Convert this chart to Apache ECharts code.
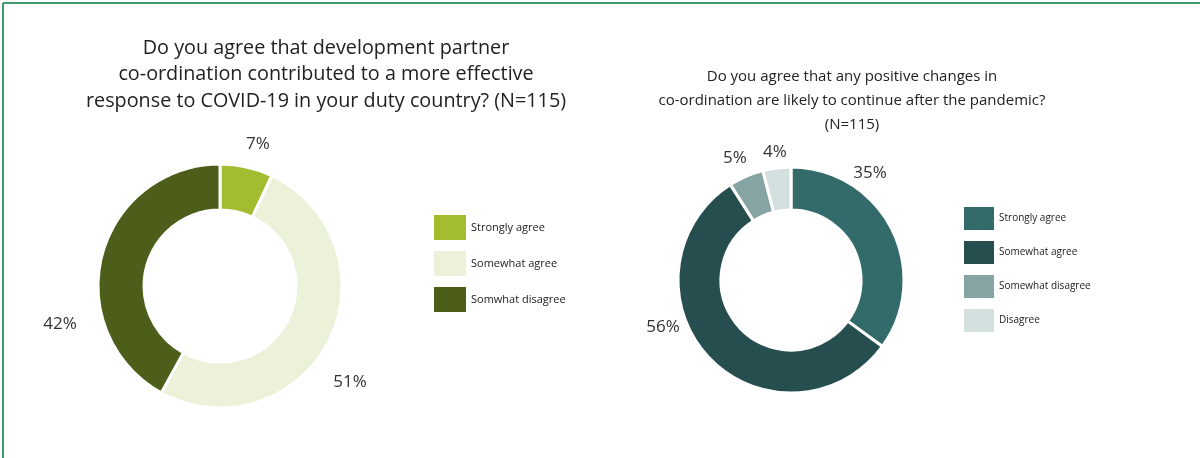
<!DOCTYPE html>
<html>
<head>
<meta charset="utf-8">
<script src="https://cdn.jsdelivr.net/npm/echarts@6/dist/echarts.min.js"></script>
<style>
  html, body { margin: 0; padding: 0; background: #fff; }
  #chart { width: 1200px; height: 458px; }
</style>
</head>
<body>
<div id="chart"></div>
<script>
// Survey responses, percent of respondents (N=115)
const leftCategories = ['Strongly agree', 'Somewhat agree', 'Somwhat disagree'];
const leftValues = [7, 51, 42];
const leftColors = ['#a3bd31', '#ecf2d9', '#4d5e1a'];

const rightCategories = ['Strongly agree', 'Somewhat agree', 'Somewhat disagree', 'Disagree'];
const rightValues = [35, 56, 5, 4];
const rightColors = ['#336b6a', '#264e4f', '#86a4a3', '#d4dfe0'];

const leftTitle = 'Do you agree that development partner\nco-ordination contributed to a more effective\nresponse to COVID-19 in your duty country? (N=115)';
const rightTitle = 'Do you agree that any positive changes in\nco-ordination are likely to continue after the pandemic?\n(N=115)';

const FONT = '"Open Sans", "Noto Sans", sans-serif';

// Where each percentage label sits, per pie (label centre, px)
const labelSpots = [
  [[258, 144], [350, 382], [60, 324]],
  [[870, 173], [663, 327], [735, 158], [775, 152]]
];

function pieSeries(cats, vals, colors, center, radius) {
  return {
    type: 'pie',
    center: center,
    radius: radius,
    startAngle: 90,
    clockwise: true,
    avoidLabelOverlap: false,
    data: cats.map((c, i) => ({ name: c, value: vals[i], itemStyle: { color: colors[i] } })),
    itemStyle: { borderColor: '#ffffff', borderWidth: 3 },
    label: {
      show: true,
      position: 'outside',
      formatter: '{c}%',
      fontFamily: FONT,
      fontSize: 17,
      color: '#333333'
    },
    labelLine: { show: false, length: 14, length2: 0 },
    labelLayout: function (p) {
      const s = labelSpots[p.seriesIndex][p.dataIndex];
      return { x: s[0], y: s[1], align: 'center', verticalAlign: 'middle' };
    },
    emphasis: { disabled: true },
    animation: false
  };
}

function legendGraphic(cats, colors, x, y, w, h, step, fontSize) {
  const children = [];
  cats.forEach((c, i) => {
    children.push({
      type: 'rect',
      shape: { x: x, y: y + i * step, width: w, height: h },
      style: { fill: colors[i] }
    });
    children.push({
      type: 'text',
      style: {
        x: x + w + 5, y: y + i * step + h / 2,
        text: c, fill: '#222222',
        font: fontSize + 'px ' + FONT,
        textVerticalAlign: 'middle'
      }
    });
  });
  return { type: 'group', children: children };
}

const chart = echarts.init(document.getElementById('chart'), null, { renderer: 'canvas' });
chart.setOption({
  backgroundColor: '#ffffff',
  title: [
    {
      text: leftTitle, left: 321, top: 30, textAlign: 'center',
      textStyle: { fontFamily: FONT, fontSize: 19.8, fontWeight: 'normal', color: '#222222', lineHeight: 26.5, align: 'center' }
    },
    {
      text: rightTitle, left: 847, top: 60, textAlign: 'center',
      textStyle: { fontFamily: FONT, fontSize: 15, fontWeight: 'normal', color: '#222222', lineHeight: 24, align: 'center' }
    }
  ],
  series: [
    pieSeries(leftCategories, leftValues, leftColors, [220, 286], [76, 122]),
    pieSeries(rightCategories, rightValues, rightColors, [791, 280], [70, 113])
  ],
  graphic: [
    { type: 'line', shape: { x1: 3, y1: 3, x2: 1200, y2: 3 }, style: { stroke: '#3f9a6c', lineWidth: 2 } },
    { type: 'line', shape: { x1: 3, y1: 3, x2: 3, y2: 458 }, style: { stroke: '#3f9a6c', lineWidth: 2 } },
    legendGraphic(leftCategories, leftColors, 434, 215, 32, 25, 36, 11),
    legendGraphic(rightCategories, rightColors, 964, 207, 30, 23, 34, 10)
  ]
});
</script>
</body>
</html>
